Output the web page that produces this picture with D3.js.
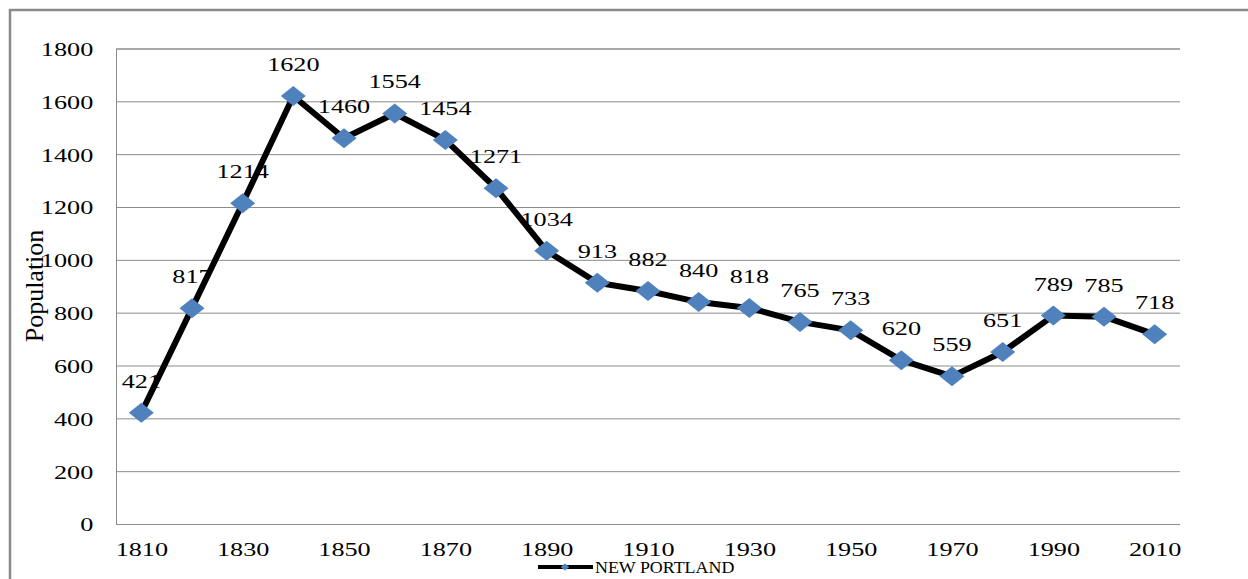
<!DOCTYPE html>
<html>
<head>
<meta charset="utf-8">
<script src="https://cdn.jsdelivr.net/npm/d3@7"></script>
<style>
  body { margin: 0; background: #fff; }
  svg { display: block; }
</style>
</head>
<body>
<div id="chart-area"></div>
<script>
const years = [1810, 1820, 1830, 1840, 1850, 1860, 1870, 1880, 1890, 1900, 1910,
    1920, 1930, 1940, 1950, 1960, 1970, 1980, 1990, 2000, 2010];
const population = [421, 817, 1214, 1620, 1460, 1554, 1454, 1271, 1034, 913, 882,
    840, 818, 765, 733, 620, 559, 651, 789, 785, 718];
const yTicks = [0, 200, 400, 600, 800, 1000, 1200, 1400, 1600, 1800];
const xTickLabels = [1810, 1830, 1850, 1870, 1890, 1910, 1930, 1950, 1970, 1990, 2010];
const seriesName = "NEW PORTLAND";
const yTitle = "Population";

const W = 1248, H = 579;
const margins = { top: 48.5, right: 68, bottom: 55, left: 116 },
    chartWidth = W - margins.left - margins.right,
    chartHeight = H - margins.top - margins.bottom;

const font = "Liberation Serif, Times New Roman, serif";
const stretch = 1.38;
const gridColor = "#8c8c8c";
const markerColor = "#4f81bd";

const svg = d3.select("#chart-area")
    .append("svg")
    .attr("width", W)
    .attr("height", H)
    .style("font-family", font);

svg.append("rect")
    .attr("x", 10)
    .attr("y", 10)
    .attr("width", W + 20)
    .attr("height", H + 20)
    .attr("fill", "none")
    .attr("stroke", "#8a8a8a")
    .attr("stroke-width", 2.5);

const chart = svg.append("g")
    .attr("transform", `translate(${margins.left},${margins.top})`);

const scaleX = d3.scalePoint().domain(years).range([0, chartWidth]).padding(0.5);
const scaleY = d3.scaleLinear().domain([0, 1800]).range([chartHeight, 0]);

// y axis with gridlines
const yAxis = chart.append("g")
    .attr("class", "y-axis")
    .call(d3.axisLeft(scaleY)
        .tickValues(yTicks)
        .tickFormat(d3.format("d"))
        .tickSize(-chartWidth)
        .tickPadding(16.5));
yAxis.attr("font-family", null);
yAxis.select(".domain").attr("stroke", gridColor);
yAxis.selectAll(".tick line").attr("stroke", gridColor);
yAxis.selectAll(".tick text")
    .style("font-family", font)
    .attr("font-size", "19px")
    .attr("fill", "#000")
    .attr("dy", "0.36em")
    .attr("transform", `scale(${stretch},1)`);

// x axis
const xAxis = chart.append("g")
    .attr("class", "x-axis")
    .attr("transform", `translate(0,${chartHeight})`)
    .call(d3.axisBottom(scaleX).tickValues(xTickLabels).tickSize(0).tickPadding(18.5));
xAxis.attr("font-family", null);
xAxis.select(".domain").attr("stroke", gridColor).attr("d", `M0,0.5H${chartWidth}`);
xAxis.selectAll(".tick text")
    .style("font-family", font)
    .attr("font-size", "19px")
    .attr("fill", "#000")
    .attr("transform", `scale(${stretch},1)`);

// y title
svg.append("text")
    .attr("transform", "translate(43,286) rotate(-90)")
    .attr("text-anchor", "middle")
    .style("font-family", font)
    .attr("font-size", "26px")
    .attr("fill", "#000")
    .text(yTitle);

const points = years.map((y, i) => ({ year: y, value: population[i] }));

// data labels (under the line)
chart.selectAll(".data-label")
    .data(points)
    .enter().append("text")
    .attr("class", "data-label")
    .attr("transform", d => `translate(${scaleX(d.year)},${scaleY(d.value) - 25}) scale(${stretch},1)`)
    .attr("text-anchor", "middle")
    .style("font-family", font)
    .attr("font-size", "19px")
    .attr("fill", "#000")
    .text(d => d.value);

const line = d3.line()
    .x(d => scaleX(d.year))
    .y(d => scaleY(d.value));

chart.append("path")
    .datum(points)
    .attr("fill", "none")
    .attr("stroke", "#000")
    .attr("stroke-width", 6)
    .attr("stroke-linejoin", "round")
    .attr("d", line);

const diamond = d3.symbol().type(d3.symbolSquare).size(200);

chart.selectAll(".marker")
    .data(points)
    .enter().append("path")
    .attr("class", "marker")
    .attr("d", diamond)
    .attr("fill", markerColor)
    .attr("transform", d => `translate(${scaleX(d.year)},${scaleY(d.value)}) scale(1.25,1) rotate(45)`);

// legend
const legend = svg.append("g")
    .attr("transform", "translate(538,567)");
legend.append("line")
    .attr("x1", 0).attr("x2", 55)
    .attr("y1", 0).attr("y2", 0)
    .attr("stroke", "#000")
    .attr("stroke-width", 4);
legend.append("path")
    .attr("d", d3.symbol().type(d3.symbolSquare).size(24))
    .attr("fill", markerColor)
    .attr("transform", "translate(27,0) scale(1.25,1) rotate(45)");
legend.append("text")
    .attr("transform", "translate(57,6) scale(1.12,1)")
    .style("font-family", font)
    .attr("font-size", "16px")
    .attr("fill", "#000")
    .text(seriesName);
</script>
</body>
</html>
